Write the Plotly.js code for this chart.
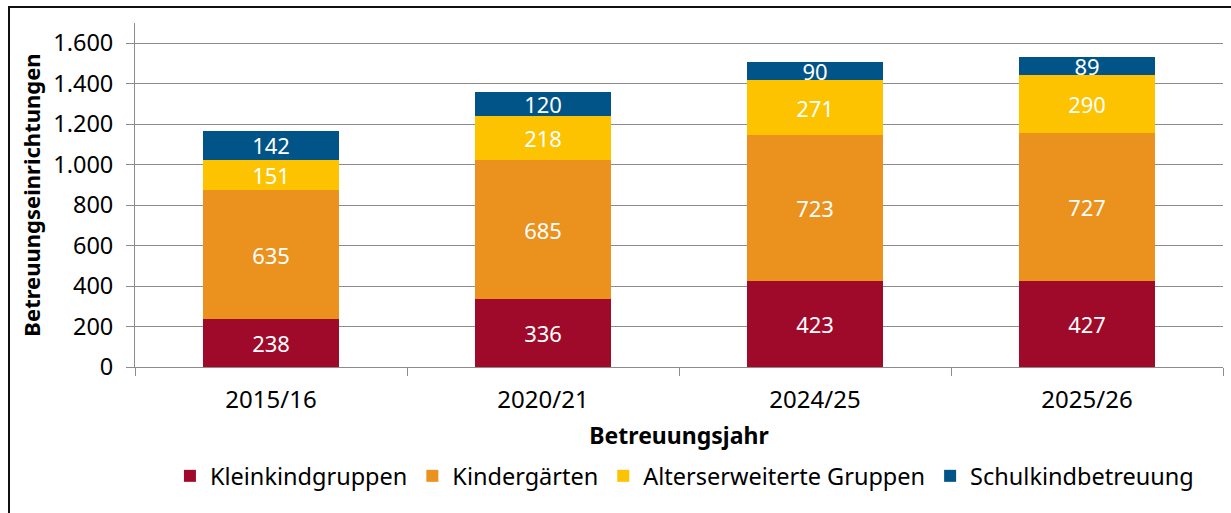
<!DOCTYPE html>
<html>
<head>
<meta charset="utf-8">
<script src="https://cdn.plot.ly/plotly-3.0.1.min.js"></script>
<style>
html,body{margin:0;padding:0;background:#fff;}
#chart{width:1231px;height:513px;position:absolute;left:0;top:0;}
#frame{position:absolute;left:8px;top:6px;width:1240px;height:520px;border-top:2px solid #111;border-left:2px solid #111;pointer-events:none;}
</style>
</head>
<body>
<div id="chart"></div>
<div id="frame"></div>
<script>
const categories = ["2015/16", "2020/21", "2024/25", "2025/26"];
const seriesNames = ["Kleinkindgruppen", "Kindergärten", "Alterserweiterte Gruppen", "Schulkindbetreuung"];
const kleinkindgruppen = [238, 336, 423, 427];
const kindergaerten = [635, 685, 723, 727];
const alterserweitert = [151, 218, 271, 290];
const schulkind = [142, 120, 90, 89];
const colors = ["#A00A2A", "#EA911E", "#FDC300", "#005487"];
const yTicks = [0, 200, 400, 600, 800, 1000, 1200, 1400, 1600];

const FONT = "Noto Sans, Open Sans, sans-serif";
const values = [kleinkindgruppen, kindergaerten, alterserweitert, schulkind];

const traces = values.map((v, i) => ({
  type: "bar",
  name: seriesNames[i],
  x: categories,
  y: v,
  text: v.map(String),
  textposition: "inside",
  insidetextanchor: "middle",
  textangle: 0,
  textfont: {color: "#ffffff", size: 22, family: FONT},
  marker: {color: colors[i], line: {width: 0}},
  hoverinfo: "none"
}));

const layout = {
  width: 1231,
  height: 513,
  barmode: "stack",
  bargap: 0.5,
  separators: ",.",
  paper_bgcolor: "rgba(0,0,0,0)",
  plot_bgcolor: "rgba(0,0,0,0)",
  margin: {l: 135, r: 8, t: 23, b: 146},
  font: {family: FONT, size: 22, color: "#000"},
  uniformtext: {mode: "show", minsize: 22},
  xaxis: {
    type: "category",
    tickson: "boundaries",
    ticks: "outside",
    ticklen: 8,
    tickcolor: "#8c8c8c",
    showline: true,
    linecolor: "#8c8c8c",
    linewidth: 1,
    showgrid: false,
    ticklabelstandoff: 11,
    tickfont: {size: 24, family: FONT},
    title: {text: "<b>Betreuungsjahr</b>", font: {size: 23, family: FONT}, standoff: 14}
  },
  yaxis: {
    range: [0, 1700],
    tickvals: yTicks,
    tickformat: ",d",
    ticks: "outside",
    ticklen: 8,
    tickcolor: "#8c8c8c",
    showline: true,
    linecolor: "#8c8c8c",
    linewidth: 1,
    showgrid: true,
    gridcolor: "#8c8c8c",
    gridwidth: 1,
    zeroline: false,
    ticklabelstandoff: 8,
    tickfont: {size: 23.5, family: FONT},
    title: {text: "<b>Betreuungseinrichtungen</b>", font: {size: 22, family: FONT}, standoff: 6}
  },
  legend: {
    orientation: "h",
    x: 0.505,
    xanchor: "center",
    xref: "paper",
    y: 0.072,
    yref: "container",
    yanchor: "middle",
    font: {size: 23.5, family: FONT},
    traceorder: "normal",
    itemwidth: 30
  },
  showlegend: true
};

Plotly.newPlot("chart", traces, layout, {displayModeBar: false, staticPlot: true});
</script>
</body>
</html>
